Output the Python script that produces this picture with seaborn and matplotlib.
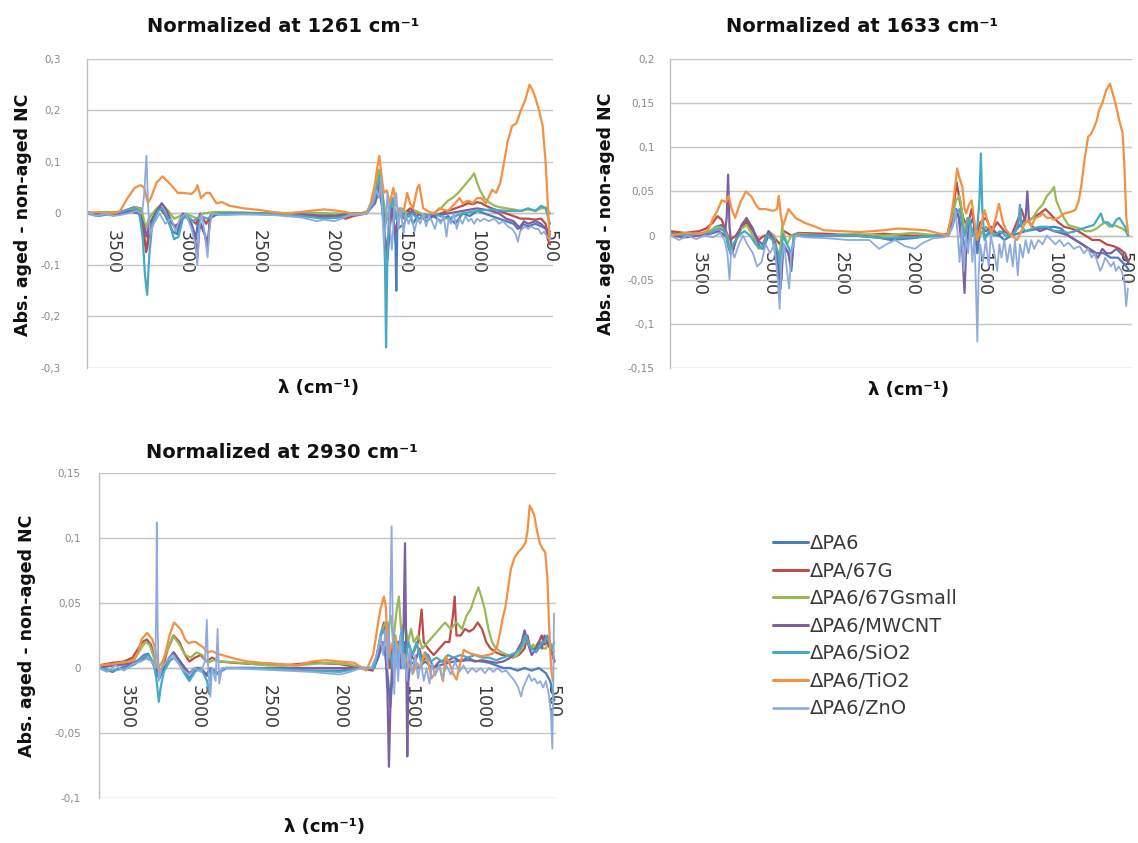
import matplotlib
matplotlib.use("Agg")
import matplotlib.pyplot as plt
from matplotlib.lines import Line2D
from matplotlib.ticker import FixedLocator, FuncFormatter
import pandas as pd
import seaborn as sns

# ---------------------------------------------------------------------------
# Series names and colours
# ---------------------------------------------------------------------------
SERIES = ["ΔPA6", "ΔPA/67G", "ΔPA6/67Gsmall", "ΔPA6/MWCNT",
          "ΔPA6/SiO2", "ΔPA6/TiO2", "ΔPA6/ZnO"]
COLORS = ["#4A7EBB", "#BE4B48", "#98B954", "#7D60A0",
          "#46AAC5", "#F39142", "#8FAADC"]
WIDTHS = [1.6, 1.6, 1.6, 1.6, 1.6, 1.6, 1.3]

X_TICKS = [3500, 3000, 2500, 2000, 1500, 1000, 500]

# ---------------------------------------------------------------------------
# Difference spectra (wavenumber cm-1, absorbance difference)
# Normalized at 1261 cm-1
# ---------------------------------------------------------------------------
N1261_PA6 = [(3680, 0.003), (3600, -0.003), (3520, 0.002), (3450, 0.0), (3380, 0.005), (3330, 0.008),
             (3300, -0.02), (3280, -0.06), (3265, -0.07), (3245, -0.02), (3200, 0.005), (3170, 0.012),
             (3130, -0.01), (3090, -0.035), (3060, -0.04), (3030, -0.01), (3000, -0.005), (2960, -0.02),
             (2930, -0.05), (2915, -0.01), (2880, -0.03), (2850, -0.06), (2830, -0.005), (2780, -0.002),
             (2600, 0.0), (2400, -0.002), (2200, 0.0), (2050, -0.008), (1950, -0.006), (1850, 0.0),
             (1760, 0.0), (1700, 0.03), (1675, 0.06), (1655, 0.02), (1635, -0.04), (1615, -0.09),
             (1600, -0.02), (1580, 0.01), (1560, -0.06), (1555, -0.15), (1548, -0.03), (1500, -0.02),
             (1470, 0.005), (1440, -0.02), (1400, 0.0), (1350, -0.015), (1300, -0.005), (1250, -0.015),
             (1200, -0.005), (1150, -0.02), (1100, 0.0), (1050, -0.005), (1000, 0.005), (950, 0.0),
             (900, -0.005), (850, -0.01), (800, -0.015), (750, -0.02), (720, -0.03), (690, -0.02),
             (650, -0.025), (600, -0.02), (560, -0.025), (520, -0.03), (500, -0.035)]
N1261_PA67G = [(3680, 0.002), (3550, 0.0), (3450, 0.003), (3350, 0.012), (3310, 0.01), (3290, -0.03),
               (3272, -0.075), (3255, -0.04), (3230, -0.01), (3180, 0.01), (3130, -0.005), (3080, -0.025),
               (3050, -0.02), (3000, -0.003), (2930, -0.02), (2900, 0.0), (2860, -0.02), (2820, 0.0),
               (2700, 0.002), (2500, 0.0), (2300, 0.0), (2100, -0.005), (2000, -0.003), (1900, -0.01),
               (1850, -0.005), (1760, 0.0), (1700, 0.03), (1672, 0.07), (1650, 0.03), (1630, -0.02),
               (1610, 0.0), (1580, 0.02), (1550, -0.01), (1500, 0.0), (1460, 0.01), (1400, 0.0),
               (1300, -0.005), (1200, 0.005), (1150, 0.01), (1100, 0.015), (1060, 0.02), (1030, 0.018),
               (1000, 0.022), (970, 0.02), (940, 0.015), (900, 0.01), (850, 0.005), (800, 0.0),
               (750, -0.005), (700, -0.01), (650, -0.01), (600, -0.012), (560, -0.01), (530, -0.02),
               (515, -0.05), (500, -0.06)]
N1261_67GS = [(3680, 0.0), (3550, 0.003), (3450, 0.002), (3380, 0.008), (3330, 0.012), (3300, 0.005),
              (3275, -0.03), (3255, -0.01), (3200, 0.01), (3160, 0.018), (3120, 0.005), (3080, -0.01),
              (3040, -0.005), (3000, 0.0), (2920, -0.01), (2880, 0.0), (2800, 0.003), (2600, 0.002),
              (2400, 0.0), (2200, 0.002), (2000, 0.0), (1800, 0.0), (1750, 0.005), (1700, 0.04),
              (1675, 0.085), (1660, 0.06), (1640, 0.02), (1620, -0.01), (1590, 0.02), (1560, 0.0),
              (1520, 0.01), (1480, 0.0), (1420, 0.005), (1350, -0.005), (1300, 0.0), (1250, 0.01),
              (1200, 0.025), (1170, 0.03), (1130, 0.04), (1100, 0.05), (1070, 0.06), (1040, 0.07),
              (1020, 0.078), (1000, 0.06), (980, 0.045), (950, 0.03), (920, 0.022), (880, 0.015),
              (840, 0.012), (800, 0.01), (750, 0.008), (700, 0.005), (650, 0.008), (600, 0.005),
              (560, 0.01), (530, 0.012), (510, 0.005), (500, 0.0)]
N1261_MWCNT = [(3680, 0.0), (3550, -0.002), (3450, 0.0), (3380, 0.004), (3320, 0.0), (3290, -0.02),
               (3270, -0.045), (3250, -0.02), (3200, 0.005), (3165, 0.02), (3130, 0.005), (3090, -0.02),
               (3060, -0.03), (3020, 0.0), (2980, -0.01), (2940, -0.04), (2920, -0.085), (2905, -0.02),
               (2870, -0.04), (2850, -0.07), (2835, -0.01), (2780, 0.0), (2500, 0.0), (2200, -0.002),
               (2000, -0.005), (1850, 0.0), (1760, 0.0), (1700, 0.02), (1670, 0.05), (1650, 0.01),
               (1630, -0.05), (1615, -0.08), (1600, -0.03), (1585, 0.01), (1560, -0.04), (1540, 0.0),
               (1500, -0.01), (1450, 0.005), (1400, -0.01), (1300, -0.005), (1200, 0.0), (1100, 0.005),
               (1000, 0.01), (900, 0.005), (850, 0.0), (800, -0.01), (750, -0.015), (700, -0.03),
               (680, -0.015), (650, -0.02), (600, -0.015), (560, -0.02), (530, -0.03), (500, -0.04)]
N1261_SIO2 = [(3680, 0.0), (3600, -0.005), (3500, 0.0), (3420, 0.005), (3360, 0.012), (3320, 0.005),
              (3295, -0.05), (3280, -0.12), (3265, -0.158), (3250, -0.08), (3230, -0.02), (3190, 0.005),
              (3160, 0.01), (3120, -0.01), (3080, -0.05), (3050, -0.045), (3020, -0.01), (2990, -0.005),
              (2950, -0.015), (2900, -0.005), (2850, -0.01), (2800, 0.0), (2600, 0.0), (2300, -0.002),
              (2050, -0.01), (1950, -0.008), (1850, -0.002), (1760, 0.0), (1710, 0.02), (1680, 0.06),
              (1660, 0.08), (1645, 0.02), (1632, -0.1), (1625, -0.26), (1617, -0.1), (1605, 0.0),
              (1580, 0.03), (1560, -0.01), (1530, 0.01), (1490, -0.01), (1450, 0.0), (1400, -0.01),
              (1300, 0.0), (1200, -0.01), (1100, 0.0), (1000, 0.005), (900, 0.008), (800, 0.005),
              (700, 0.005), (650, 0.01), (600, 0.005), (560, 0.015), (530, 0.01), (510, -0.01),
              (500, -0.02)]
N1261_TIO2 = [(3680, 0.0), (3600, 0.003), (3500, 0.0), (3450, 0.005), (3400, 0.03), (3350, 0.05),
              (3310, 0.055), (3285, 0.05), (3260, 0.02), (3240, 0.03), (3200, 0.06), (3160, 0.072),
              (3100, 0.055), (3055, 0.04), (3020, 0.04), (2960, 0.038), (2935, 0.045), (2920, 0.055),
              (2895, 0.03), (2860, 0.04), (2835, 0.04), (2790, 0.02), (2750, 0.022), (2700, 0.015),
              (2600, 0.01), (2500, 0.007), (2400, 0.003), (2300, 0.0), (2150, 0.005), (2050, 0.008),
              (1950, 0.005), (1850, 0.0), (1760, 0.0), (1730, 0.02), (1700, 0.06), (1685, 0.09),
              (1671, 0.112), (1655, 0.07), (1640, 0.04), (1620, 0.045), (1600, 0.02), (1575, 0.05),
              (1560, 0.02), (1530, 0.0), (1500, 0.01), (1480, 0.04), (1460, 0.02), (1440, 0.01),
              (1410, 0.05), (1397, 0.056), (1370, 0.01), (1340, 0.005), (1300, 0.0), (1260, 0.01),
              (1200, 0.005), (1150, 0.02), (1120, 0.03), (1100, 0.02), (1060, 0.025), (1030, 0.02),
              (1000, 0.03), (970, 0.03), (940, 0.02), (897, 0.046), (870, 0.04), (840, 0.06),
              (815, 0.1), (790, 0.14), (760, 0.17), (730, 0.175), (700, 0.2), (670, 0.22),
              (640, 0.25), (620, 0.24), (600, 0.225), (575, 0.2), (550, 0.17), (530, 0.1),
              (515, 0.02), (505, -0.04), (498, -0.05)]
N1261_ZNO = [(3680, 0.003), (3620, -0.005), (3560, 0.0), (3500, -0.005), (3450, -0.003), (3400, 0.0),
             (3340, 0.005), (3300, 0.0), (3285, 0.04), (3270, 0.112), (3258, 0.01), (3245, -0.04),
             (3220, -0.02), (3180, 0.0), (3140, -0.02), (3100, -0.01), (3070, -0.035), (3040, -0.01),
             (3000, 0.0), (2960, -0.03), (2935, -0.06), (2920, -0.1), (2908, -0.03), (2890, 0.0),
             (2870, -0.04), (2850, -0.085), (2838, -0.03), (2820, 0.0), (2750, -0.003), (2600, -0.002),
             (2400, -0.003), (2200, -0.008), (2100, -0.015), (2050, -0.012), (1980, -0.015),
             (1930, -0.01), (1880, -0.003), (1800, -0.002), (1760, 0.0), (1720, 0.02), (1690, 0.045),
             (1672, 0.03), (1660, 0.07), (1650, 0.0), (1640, -0.06), (1630, -0.03), (1615, 0.04),
             (1600, -0.02), (1585, -0.07), (1570, 0.0), (1555, 0.04), (1540, -0.03), (1525, 0.01),
             (1505, -0.04), (1490, 0.0), (1470, -0.02), (1450, -0.005), (1430, -0.035), (1410, -0.01),
             (1390, -0.02), (1370, 0.0), (1350, -0.025), (1330, -0.005), (1310, -0.015), (1290, -0.03),
             (1270, -0.01), (1250, -0.02), (1230, -0.005), (1210, -0.045), (1195, -0.01), (1180, -0.02),
             (1160, 0.0), (1140, -0.03), (1120, -0.01), (1100, -0.02), (1080, -0.005), (1060, -0.015),
             (1040, -0.01), (1020, -0.02), (1000, -0.01), (980, -0.015), (950, -0.01), (920, -0.015),
             (880, -0.01), (850, -0.02), (820, -0.015), (790, -0.025), (760, -0.03), (735, -0.04),
             (720, -0.055), (705, -0.035), (690, -0.03), (670, -0.025), (650, -0.03), (630, -0.025),
             (600, -0.03), (580, -0.03), (560, -0.04), (540, -0.035), (520, -0.045), (505, -0.05),
             (498, -0.05)]

# Normalized at 1633 cm-1
N1633_PA6 = [(3700, 0.003), (3600, 0.0), (3500, 0.002), (3430, 0.004), (3380, 0.01), (3340, 0.012),
             (3310, 0.0), (3290, -0.015), (3270, -0.02), (3240, -0.005), (3200, 0.01), (3165, 0.018),
             (3120, 0.008), (3080, -0.01), (3050, -0.015), (3010, 0.0), (2980, -0.005), (2940, -0.04),
             (2925, -0.06), (2910, -0.01), (2870, -0.02), (2850, -0.04), (2830, 0.0), (2750, 0.0),
             (2500, 0.0), (2300, 0.0), (2150, -0.005), (2000, -0.003), (1850, 0.0), (1750, 0.0),
             (1720, 0.01), (1690, 0.03), (1670, 0.02), (1645, 0.0), (1620, -0.02), (1600, 0.0),
             (1560, 0.01), (1540, -0.02), (1520, 0.005), (1480, 0.0), (1420, 0.005), (1350, -0.005),
             (1300, 0.0), (1200, 0.005), (1100, 0.008), (1000, 0.01), (950, 0.008), (900, 0.0),
             (850, -0.005), (800, -0.01), (750, -0.015), (700, -0.02), (650, -0.02), (600, -0.025),
             (550, -0.025), (520, -0.03), (490, -0.035), (470, -0.04)]
N1633_PA67G = [(3700, 0.005), (3600, 0.003), (3500, 0.005), (3450, 0.008), (3400, 0.015), (3370, 0.022),
               (3340, 0.018), (3310, 0.005), (3280, -0.005), (3240, 0.0), (3200, 0.01), (3165, 0.015),
               (3120, 0.005), (3080, -0.005), (3040, 0.0), (2980, 0.0), (2930, -0.01), (2900, 0.005),
               (2850, 0.0), (2800, 0.003), (2600, 0.002), (2400, 0.0), (2200, 0.002), (2000, 0.0),
               (1800, 0.0), (1750, 0.002), (1710, 0.03), (1685, 0.06), (1665, 0.04), (1640, 0.02),
               (1610, 0.01), (1580, 0.03), (1550, 0.0), (1520, 0.015), (1480, 0.02), (1440, 0.005),
               (1400, 0.015), (1350, 0.005), (1300, 0.0), (1250, 0.02), (1230, 0.03), (1200, 0.015),
               (1150, 0.02), (1100, 0.025), (1060, 0.03), (1030, 0.025), (1000, 0.02), (970, 0.015),
               (930, 0.01), (880, 0.008), (830, 0.005), (780, 0.0), (730, -0.005), (680, -0.005),
               (630, -0.01), (580, -0.012), (540, -0.015), (500, -0.02), (475, -0.03)]
N1633_67GS = [(3700, 0.0), (3600, 0.002), (3500, 0.0), (3420, 0.005), (3370, 0.01), (3330, 0.008),
              (3300, 0.0), (3275, -0.02), (3250, -0.01), (3200, 0.008), (3165, 0.012), (3120, 0.0),
              (3080, -0.015), (3050, -0.01), (3010, 0.005), (2970, 0.0), (2935, -0.03), (2915, 0.01),
              (2880, -0.01), (2850, 0.0), (2800, 0.002), (2600, 0.0), (2400, 0.002), (2200, 0.0),
              (2000, 0.003), (1800, 0.0), (1750, 0.0), (1715, 0.02), (1690, 0.04), (1665, 0.045),
              (1650, 0.03), (1630, 0.0), (1610, 0.02), (1590, -0.005), (1560, 0.01), (1520, 0.0),
              (1480, 0.01), (1420, 0.0), (1350, 0.005), (1300, 0.0), (1250, 0.01), (1200, 0.015),
              (1150, 0.02), (1110, 0.03), (1080, 0.035), (1050, 0.045), (1020, 0.05), (1000, 0.055),
              (985, 0.04), (960, 0.03), (930, 0.02), (900, 0.012), (860, 0.01), (820, 0.008),
              (780, 0.005), (740, 0.005), (700, 0.008), (670, 0.012), (640, 0.015), (610, 0.01),
              (580, 0.012), (550, 0.01), (520, 0.008), (495, 0.005), (475, 0.0)]
N1633_MWCNT = [(3700, 0.0), (3600, -0.002), (3500, 0.0), (3420, 0.002), (3360, 0.005), (3320, 0.0),
               (3305, 0.02), (3295, 0.069), (3285, 0.01), (3265, -0.02), (3240, -0.005), (3200, 0.012),
               (3165, 0.02), (3130, 0.01), (3090, -0.005), (3050, -0.01), (3010, 0.005), (2970, -0.005),
               (2935, -0.03), (2920, -0.05), (2905, -0.01), (2870, -0.02), (2850, -0.035), (2830, 0.0),
               (2700, 0.0), (2400, 0.0), (2200, -0.003), (2000, -0.002), (1800, 0.0), (1750, 0.0),
               (1715, 0.015), (1690, 0.03), (1670, 0.02), (1645, -0.02), (1630, -0.065), (1620, -0.02),
               (1600, 0.01), (1570, 0.02), (1550, -0.01), (1520, 0.01), (1480, 0.005), (1440, 0.01),
               (1400, 0.0), (1350, 0.005), (1300, 0.0), (1250, 0.01), (1200, 0.02), (1188, 0.05),
               (1175, 0.015), (1150, 0.01), (1100, 0.005), (1050, 0.008), (1000, 0.005), (950, 0.003),
               (900, 0.0), (850, -0.005), (800, -0.01), (760, -0.015), (720, -0.02), (690, -0.025),
               (660, -0.015), (630, -0.02), (600, -0.02), (560, -0.015), (530, -0.02), (500, -0.025),
               (480, -0.03)]
N1633_SIO2 = [(3700, 0.002), (3600, 0.0), (3500, 0.002), (3420, 0.003), (3360, 0.008), (3320, 0.005),
              (3300, -0.005), (3280, -0.02), (3260, -0.01), (3220, 0.0), (3180, 0.005), (3140, 0.0),
              (3100, -0.01), (3060, -0.015), (3020, 0.0), (2980, -0.005), (2940, -0.02), (2925, -0.04),
              (2910, 0.0), (2880, -0.01), (2850, -0.02), (2830, 0.0), (2700, 0.0), (2400, 0.0),
              (2200, -0.003), (2000, -0.002), (1800, 0.0), (1750, 0.0), (1715, 0.01), (1690, 0.025),
              (1665, 0.03), (1645, 0.01), (1625, 0.0), (1600, 0.02), (1570, 0.0), (1540, 0.01),
              (1525, 0.04), (1515, 0.093), (1505, 0.03), (1490, -0.005), (1460, 0.005), (1420, 0.0),
              (1380, 0.005), (1340, 0.0), (1300, 0.0), (1270, 0.005), (1250, 0.015), (1240, 0.035),
              (1230, 0.01), (1200, 0.005), (1150, 0.008), (1100, 0.01), (1050, 0.01), (1000, 0.005),
              (950, 0.005), (900, 0.003), (850, 0.005), (800, 0.008), (760, 0.01), (720, 0.012),
              (690, 0.02), (670, 0.025), (650, 0.015), (620, 0.015), (590, 0.01), (560, 0.018),
              (540, 0.02), (520, 0.015), (500, 0.01), (480, 0.0)]
N1633_TIO2 = [(3700, 0.0), (3600, 0.003), (3500, 0.002), (3460, 0.004), (3435, 0.006), (3400, 0.02),
              (3370, 0.028), (3340, 0.04), (3310, 0.038), (3290, 0.045), (3270, 0.03), (3245, 0.02),
              (3210, 0.037), (3170, 0.05), (3130, 0.044), (3100, 0.035), (3075, 0.03), (3030, 0.03),
              (2980, 0.028), (2950, 0.03), (2938, 0.045), (2925, 0.025), (2910, 0.01), (2890, 0.02),
              (2870, 0.03), (2820, 0.02), (2750, 0.014), (2680, 0.01), (2620, 0.006), (2500, 0.005),
              (2360, 0.004), (2200, 0.006), (2100, 0.008), (2000, 0.007), (1900, 0.006), (1800, 0.002),
              (1750, 0.0), (1725, 0.02), (1700, 0.05), (1682, 0.076), (1665, 0.065), (1645, 0.055),
              (1630, 0.03), (1618, 0.025), (1600, 0.035), (1580, 0.04), (1560, 0.015), (1541, -0.005),
              (1515, 0.01), (1490, 0.029), (1465, 0.015), (1440, 0.003), (1410, 0.02), (1388, 0.036),
              (1360, 0.015), (1336, 0.006), (1300, 0.0), (1260, -0.005), (1230, 0.005), (1200, 0.015),
              (1183, 0.018), (1160, 0.01), (1132, 0.02), (1100, 0.022), (1080, 0.025), (1050, 0.02),
              (1020, 0.02), (1004, 0.018), (970, 0.02), (927, 0.025), (880, 0.027), (850, 0.029),
              (825, 0.04), (805, 0.06), (786, 0.085), (760, 0.112), (740, 0.115), (722, 0.121),
              (700, 0.13), (683, 0.142), (660, 0.15), (632, 0.165), (606, 0.172), (585, 0.16),
              (568, 0.15), (540, 0.13), (517, 0.116), (505, 0.08), (491, 0.02), (478, 0.003)]
N1633_ZNO = [(3700, 0.0), (3640, -0.005), (3580, 0.0), (3520, -0.004), (3460, 0.0), (3400, -0.002),
             (3350, 0.003), (3320, -0.005), (3300, -0.02), (3285, -0.05), (3272, -0.015), (3250, -0.025),
             (3220, -0.01), (3190, 0.0), (3160, -0.01), (3120, -0.02), (3090, -0.035), (3060, -0.03),
             (3030, -0.01), (3000, -0.02), (2970, -0.01), (2945, -0.05), (2932, -0.083), (2920, -0.03),
             (2900, -0.01), (2880, -0.04), (2865, -0.06), (2850, -0.02), (2820, 0.0), (2750, -0.002),
             (2600, -0.003), (2450, -0.005), (2300, -0.005), (2232, -0.015), (2180, -0.01),
             (2120, -0.005), (2050, -0.012), (1980, -0.015), (1920, -0.008), (1850, -0.003),
             (1780, -0.002), (1740, 0.0), (1715, 0.01), (1695, 0.03), (1680, 0.005), (1665, -0.03),
             (1650, 0.01), (1635, -0.04), (1620, 0.0), (1605, -0.02), (1590, 0.01), (1575, -0.03),
             (1560, 0.0), (1548, -0.07), (1540, -0.12), (1532, -0.05), (1520, -0.01), (1500, -0.03),
             (1480, -0.005), (1460, -0.035), (1445, 0.0), (1420, -0.02), (1400, -0.04), (1385, -0.01),
             (1370, -0.025), (1350, -0.005), (1330, -0.03), (1310, -0.01), (1290, -0.035),
             (1275, -0.005), (1255, -0.045), (1240, -0.01), (1220, -0.025), (1200, -0.005),
             (1180, -0.02), (1160, -0.005), (1140, -0.015), (1110, -0.005), (1080, -0.01), (1050, 0.0),
             (1020, -0.005), (990, -0.01), (960, -0.005), (930, -0.012), (900, -0.008), (860, -0.015),
             (820, -0.012), (790, -0.02), (760, -0.015), (735, -0.025), (715, -0.02), (695, -0.03),
             (675, -0.04), (660, -0.035), (640, -0.025), (620, -0.03), (600, -0.035), (580, -0.03),
             (565, -0.04), (545, -0.035), (525, -0.04), (505, -0.05), (492, -0.08), (480, -0.06)]

# Normalized at 2930 cm-1
N2930_PA6 = [(3700, 0.0), (3600, -0.003), (3550, 0.0), (3480, 0.002), (3420, 0.006), (3380, 0.01),
             (3350, 0.011), (3320, 0.005), (3290, -0.005), (3270, -0.008), (3240, 0.0), (3200, 0.008),
             (3170, 0.012), (3130, 0.005), (3090, -0.003), (3060, -0.008), (3020, -0.002), (2980, 0.0),
             (2935, -0.006), (2910, 0.0), (2860, -0.004), (2800, 0.0), (2600, 0.0), (2400, -0.001),
             (2200, -0.002), (2000, -0.002), (1850, 0.0), (1760, 0.0), (1730, 0.008), (1700, 0.018),
             (1680, 0.01), (1660, -0.01), (1645, -0.03), (1630, -0.005), (1600, 0.01), (1570, 0.0),
             (1545, 0.02), (1530, -0.01), (1500, 0.005), (1450, 0.0), (1400, 0.005), (1350, 0.0),
             (1300, 0.002), (1200, 0.005), (1100, 0.006), (1000, 0.005), (950, 0.004), (900, 0.002),
             (850, 0.0), (800, 0.0), (750, -0.002), (700, 0.0), (650, -0.002), (600, 0.0),
             (550, -0.004), (520, -0.01), (500, -0.02), (490, -0.025)]
N2930_PA67G = [(3700, 0.002), (3600, 0.004), (3520, 0.005), (3460, 0.008), (3420, 0.015), (3390, 0.02),
               (3360, 0.022), (3330, 0.018), (3300, 0.005), (3275, -0.005), (3250, 0.0), (3210, 0.015),
               (3170, 0.025), (3130, 0.02), (3090, 0.01), (3060, 0.005), (3020, 0.008), (2980, 0.01),
               (2940, 0.005), (2900, 0.008), (2850, 0.005), (2750, 0.004), (2600, 0.003), (2400, 0.002),
               (2200, 0.004), (2000, 0.003), (1850, 0.0), (1770, -0.002), (1740, 0.01), (1715, 0.025),
               (1690, 0.035), (1670, 0.02), (1650, 0.0), (1625, 0.02), (1600, 0.01), (1570, 0.025),
               (1545, 0.005), (1520, 0.02), (1490, 0.01), (1450, 0.02), (1425, 0.045), (1410, 0.02),
               (1380, 0.015), (1340, 0.01), (1300, 0.015), (1260, 0.02), (1230, 0.02), (1205, 0.04),
               (1192, 0.055), (1180, 0.025), (1150, 0.025), (1120, 0.03), (1090, 0.028), (1060, 0.03),
               (1030, 0.035), (1000, 0.03), (970, 0.02), (940, 0.015), (900, 0.012), (860, 0.01),
               (820, 0.01), (780, 0.008), (740, 0.01), (700, 0.015), (680, 0.025), (660, 0.015),
               (630, 0.015), (600, 0.02), (580, 0.025), (560, 0.018), (540, 0.02), (520, 0.015),
               (500, 0.01), (490, 0.005)]
N2930_67GS = [(3700, 0.0), (3600, 0.002), (3500, 0.003), (3440, 0.008), (3400, 0.015), (3370, 0.02),
              (3340, 0.018), (3310, 0.008), (3285, 0.0), (3260, 0.003), (3220, 0.012), (3175, 0.025),
              (3130, 0.018), (3090, 0.01), (3050, 0.008), (3010, 0.012), (2970, 0.01), (2930, 0.004),
              (2890, 0.006), (2830, 0.005), (2700, 0.004), (2500, 0.002), (2300, 0.002), (2100, 0.004),
              (1950, 0.003), (1820, 0.0), (1760, 0.0), (1730, 0.015), (1700, 0.03), (1680, 0.035),
              (1660, 0.03), (1640, 0.04), (1625, 0.02), (1600, 0.045), (1585, 0.055), (1570, 0.03),
              (1545, 0.035), (1520, 0.02), (1500, 0.03), (1480, 0.02), (1450, 0.025), (1420, 0.015),
              (1380, 0.02), (1340, 0.025), (1300, 0.03), (1260, 0.035), (1220, 0.03), (1180, 0.035),
              (1140, 0.03), (1110, 0.04), (1080, 0.045), (1050, 0.055), (1025, 0.062), (1005, 0.055),
              (980, 0.045), (955, 0.03), (930, 0.02), (900, 0.015), (860, 0.012), (820, 0.01),
              (780, 0.008), (750, 0.01), (720, 0.015), (700, 0.02), (680, 0.02), (660, 0.015),
              (640, 0.018), (610, 0.015), (590, 0.02), (570, 0.015), (550, 0.015), (530, 0.02),
              (510, 0.018), (495, 0.012)]
N2930_MWCNT = [(3700, 0.0), (3600, 0.002), (3500, 0.003), (3420, 0.005), (3370, 0.008), (3330, 0.006),
               (3300, 0.0), (3280, -0.005), (3250, 0.0), (3200, 0.008), (3170, 0.012), (3130, 0.006),
               (3090, 0.0), (3060, -0.004), (3020, 0.0), (2980, 0.0), (2940, -0.005), (2910, 0.0),
               (2860, -0.004), (2800, 0.0), (2600, 0.0), (2400, 0.0), (2200, 0.0), (2000, 0.0),
               (1850, 0.0), (1760, 0.0), (1730, 0.01), (1700, 0.02), (1680, 0.015), (1665, -0.02),
               (1655, -0.076), (1645, -0.03), (1630, 0.01), (1610, 0.0), (1590, 0.02), (1570, 0.005),
               (1552, 0.03), (1542, 0.096), (1534, 0.02), (1526, -0.068), (1518, -0.01), (1500, 0.01),
               (1470, 0.005), (1440, 0.015), (1420, 0.005), (1380, 0.01), (1340, 0.0), (1300, 0.005),
               (1250, 0.005), (1200, 0.008), (1150, 0.005), (1100, 0.008), (1050, 0.005), (1000, 0.006),
               (950, 0.005), (900, 0.004), (850, 0.005), (800, 0.008), (760, 0.012), (720, 0.02),
               (700, 0.029), (680, 0.02), (650, 0.01), (620, 0.015), (600, 0.02), (580, 0.015),
               (560, 0.025), (540, 0.02), (520, 0.015), (505, 0.01), (490, 0.005)]
N2930_SIO2 = [(3700, 0.0), (3600, -0.002), (3500, 0.0), (3440, 0.003), (3390, 0.008), (3350, 0.01),
              (3310, 0.003), (3290, -0.01), (3275, -0.026), (3262, -0.015), (3240, -0.003), (3200, 0.005),
              (3170, 0.008), (3130, 0.003), (3090, -0.005), (3060, -0.01), (3020, -0.003), (2980, 0.0),
              (2935, -0.01), (2920, -0.02), (2905, 0.0), (2870, -0.005), (2800, 0.0), (2600, 0.0),
              (2400, -0.001), (2200, -0.002), (2000, -0.003), (1850, 0.0), (1760, 0.0), (1730, 0.015),
              (1700, 0.03), (1680, 0.025), (1665, 0.035), (1650, 0.015), (1630, 0.0), (1610, 0.025),
              (1590, 0.01), (1565, 0.03), (1545, 0.0), (1520, 0.02), (1490, 0.01), (1460, 0.02),
              (1430, 0.005), (1400, 0.012), (1360, 0.005), (1320, 0.008), (1280, 0.005), (1240, 0.01),
              (1200, 0.008), (1150, 0.01), (1100, 0.008), (1050, 0.01), (1000, 0.008), (950, 0.008),
              (900, 0.006), (850, 0.008), (800, 0.01), (760, 0.012), (730, 0.015), (710, 0.02),
              (690, 0.025), (670, 0.018), (650, 0.015), (620, 0.012), (600, 0.015), (580, 0.02),
              (560, 0.02), (540, 0.025), (520, 0.018), (505, 0.015), (492, 0.02)]
N2930_TIO2 = [(3700, 0.002), (3600, 0.003), (3549, 0.004), (3480, 0.005), (3447, 0.006), (3420, 0.012),
              (3396, 0.022), (3358, 0.027), (3320, 0.022), (3290, 0.01), (3269, -0.004), (3250, 0.002),
              (3230, 0.011), (3200, 0.025), (3167, 0.035), (3140, 0.032), (3116, 0.029), (3090, 0.022),
              (3065, 0.019), (3040, 0.02), (3014, 0.02), (2990, 0.018), (2963, 0.016), (2930, 0.012),
              (2900, 0.013), (2861, 0.011), (2800, 0.009), (2734, 0.007), (2650, 0.005), (2550, 0.004),
              (2400, 0.003), (2300, 0.002), (2200, 0.005), (2100, 0.006), (2000, 0.005), (1900, 0.004),
              (1840, 0.0), (1817, -0.002), (1790, 0.004), (1765, 0.011), (1745, 0.025), (1728, 0.037),
              (1715, 0.045), (1703, 0.05), (1690, 0.055), (1677, 0.047), (1665, 0.02), (1652, 0.011),
              (1635, 0.018), (1612, 0.024), (1590, 0.015), (1561, 0.011), (1530, 0.005), (1500, 0.0),
              (1485, -0.004), (1460, 0.004), (1430, 0.0), (1408, 0.011), (1380, 0.005), (1355, -0.008),
              (1332, -0.004), (1300, 0.002), (1275, -0.01), (1255, 0.009), (1230, 0.004),
              (1200, -0.005), (1179, -0.009), (1150, 0.005), (1128, 0.014), (1100, 0.012),
              (1077, 0.011), (1040, 0.01), (1001, 0.009), (960, 0.01), (924, 0.011), (895, 0.016),
              (873, 0.027), (855, 0.038), (835, 0.047), (815, 0.062), (797, 0.076), (770, 0.085),
              (746, 0.089), (720, 0.092), (695, 0.096), (680, 0.105), (664, 0.125), (650, 0.122),
              (631, 0.117), (612, 0.105), (593, 0.096), (575, 0.092), (555, 0.089), (540, 0.07),
              (529, 0.037), (518, 0.01), (510, -0.004), (500, -0.01)]
N2930_ZNO = [(3700, 0.0), (3640, -0.003), (3580, 0.002), (3520, -0.002), (3460, 0.003), (3400, 0.005),
             (3350, 0.008), (3320, 0.004), (3300, 0.0), (3293, 0.05), (3289, 0.112), (3284, 0.04),
             (3276, -0.01), (3255, 0.0), (3220, 0.005), (3180, 0.01), (3140, 0.004), (3100, -0.002),
             (3060, -0.005), (3020, 0.0), (2980, -0.003), (2950, 0.005), (2937, 0.037), (2928, 0.0),
             (2912, -0.022), (2900, 0.0), (2875, -0.01), (2861, 0.03), (2850, -0.012), (2830, 0.0),
             (2750, 0.0), (2600, -0.001), (2400, -0.002), (2200, -0.003), (2100, -0.004),
             (2000, -0.005), (1930, -0.003), (1850, 0.0), (1780, 0.0), (1740, 0.01), (1715, 0.025),
             (1695, 0.01), (1680, 0.03), (1665, 0.0), (1648, 0.04), (1636, 0.109), (1628, 0.03),
             (1618, -0.02), (1605, 0.02), (1590, -0.01), (1575, 0.025), (1560, 0.0), (1545, 0.01),
             (1530, -0.01), (1510, 0.015), (1490, -0.005), (1470, 0.01), (1450, -0.008), (1430, 0.005),
             (1410, -0.01), (1390, 0.0), (1370, -0.012), (1350, 0.003), (1330, -0.006), (1300, 0.002),
             (1280, -0.008), (1250, 0.002), (1220, -0.005), (1190, 0.005), (1160, -0.003),
             (1130, 0.002), (1100, -0.004), (1070, 0.0), (1040, -0.003), (1010, 0.0), (980, -0.004),
             (950, 0.0), (920, -0.003), (890, 0.0), (860, -0.003), (830, -0.002), (800, -0.006),
             (770, -0.01), (745, -0.015), (725, -0.022), (710, -0.015), (690, -0.01), (670, -0.005),
             (650, -0.01), (630, -0.008), (610, -0.012), (590, -0.01), (570, -0.015), (550, -0.01),
             (530, -0.02), (515, -0.035), (505, -0.062), (498, -0.01), (493, 0.042)]

PANEL_1261 = [N1261_PA6, N1261_PA67G, N1261_67GS, N1261_MWCNT, N1261_SIO2, N1261_TIO2, N1261_ZNO]
PANEL_1633 = [N1633_PA6, N1633_PA67G, N1633_67GS, N1633_MWCNT, N1633_SIO2, N1633_TIO2, N1633_ZNO]
PANEL_2930 = [N2930_PA6, N2930_PA67G, N2930_67GS, N2930_MWCNT, N2930_SIO2, N2930_TIO2, N2930_ZNO]

# ---------------------------------------------------------------------------
# Layout (pixel geometry of a 1138 x 843 canvas)
# ---------------------------------------------------------------------------
W, H = 1138, 843

PANELS = [
    dict(title="Normalized at 1261 cm⁻¹", spectra=PANEL_1261,
         box=(87, 59, 553, 368), xlim=(3678, 479), ylim=(-0.3, 0.3),
         yticks=[-0.3, -0.2, -0.1, 0, 0.1, 0.2, 0.3], ypad=19,
         title_xy=(283, 27), ylabel_xy=(23, 215), xlabel_xy=(319, 388)),
    dict(title="Normalized at 1633 cm⁻¹", spectra=PANEL_1633,
         box=(670, 59, 1132, 368), xlim=(3704, 451), ylim=(-0.15, 0.2),
         yticks=[-0.15, -0.1, -0.05, 0, 0.05, 0.1, 0.15, 0.2], ypad=11,
         title_xy=(862, 27), ylabel_xy=(606, 214), xlabel_xy=(909, 390)),
    dict(title="Normalized at 2930 cm⁻¹", spectra=PANEL_2930,
         box=(99, 473, 556, 798), xlim=(3696, 479), ylim=(-0.1, 0.15),
         yticks=[-0.1, -0.05, 0, 0.05, 0.1, 0.15], ypad=13,
         title_xy=(282, 452), ylabel_xy=(27, 636), xlabel_xy=(324, 827)),
]

sns.set_style("white")
plt.rcParams["font.family"] = ["DejaVu Sans"]

fig = plt.figure(figsize=(W / 100, H / 100), dpi=100)
fig.patch.set_facecolor("white")


def fig_xy(px, py):
    return px / W, 1 - py / H


def comma_fmt(v, _pos):
    if abs(v) < 1e-12:
        return "0"
    return f"{v:g}".replace(".", ",")


palette = dict(zip(SERIES, COLORS))

for cfg in PANELS:
    x0, y0, x1, y1 = cfg["box"]
    ax = fig.add_axes([x0 / W, 1 - y1 / H, (x1 - x0) / W, (y1 - y0) / H])

    rows = []
    for name, spectrum in zip(SERIES, cfg["spectra"]):
        for wn, val in spectrum:
            rows.append({"wavenumber": wn, "absorbance": val, "series": name})
    df = pd.DataFrame(rows)

    sns.lineplot(data=df, x="wavenumber", y="absorbance", hue="series",
                 hue_order=SERIES, palette=palette, estimator=None,
                 sort=True, legend=False, linewidth=1.6, ax=ax)
    for line, lw in zip(ax.get_lines(), WIDTHS):
        line.set_linewidth(lw)
        line.set_solid_joinstyle("round")

    ax.set_xlim(*cfg["xlim"])
    ax.set_ylim(*cfg["ylim"])
    ax.xaxis.set_major_locator(FixedLocator(X_TICKS))
    ax.set_xticklabels([str(t) for t in X_TICKS])
    ax.yaxis.set_major_locator(FixedLocator(cfg["yticks"]))
    ax.yaxis.set_major_formatter(FuncFormatter(comma_fmt))

    ax.grid(axis="y", color="#C6C6C6", linewidth=1.0)
    ax.grid(axis="x", visible=False)
    ax.set_axisbelow(True)
    for s in ("top", "right"):
        ax.spines[s].set_visible(False)
    ax.spines["left"].set_color("#BFBFBF")
    ax.spines["left"].set_linewidth(1.0)
    ax.spines["bottom"].set_position(("data", 0))
    ax.spines["bottom"].set_color("#BFBFBF")
    ax.spines["bottom"].set_linewidth(1.0)
    ax.spines["bottom"].set_zorder(1)

    ax.tick_params(axis="x", length=0, pad=12, labelsize=12.5,
                   labelcolor="#3A3A3A", labelrotation=270)
    ax.tick_params(axis="y", length=0, pad=cfg["ypad"], labelsize=7.5,
                   labelcolor="#8A8A8A")
    ax.set_xlabel("")
    ax.set_ylabel("")

    fig.text(*fig_xy(*cfg["title_xy"]), cfg["title"], ha="center", va="center",
             fontsize=14, fontweight="bold", color="#111111")
    fig.text(*fig_xy(*cfg["ylabel_xy"]), "Abs. aged - non-aged NC", ha="center",
             va="center", rotation=90, fontsize=12.5, fontweight="bold", color="#111111")
    fig.text(*fig_xy(*cfg["xlabel_xy"]), "λ (cm⁻¹)", ha="center", va="center",
             fontsize=13, fontweight="bold", color="#111111")

handles = [Line2D([], [], color=c, lw=w + 0.6) for c, w in zip(COLORS, WIDTHS)]
fig.legend(handles, SERIES, loc="upper left", bbox_to_anchor=fig_xy(773, 534),
           frameon=False, fontsize=14, handlelength=1.8, handletextpad=0.1,
           labelspacing=0.44, borderpad=0, borderaxespad=0, labelcolor="#3A3A3A")

fig.savefig("out.png", dpi=100, facecolor="white")
